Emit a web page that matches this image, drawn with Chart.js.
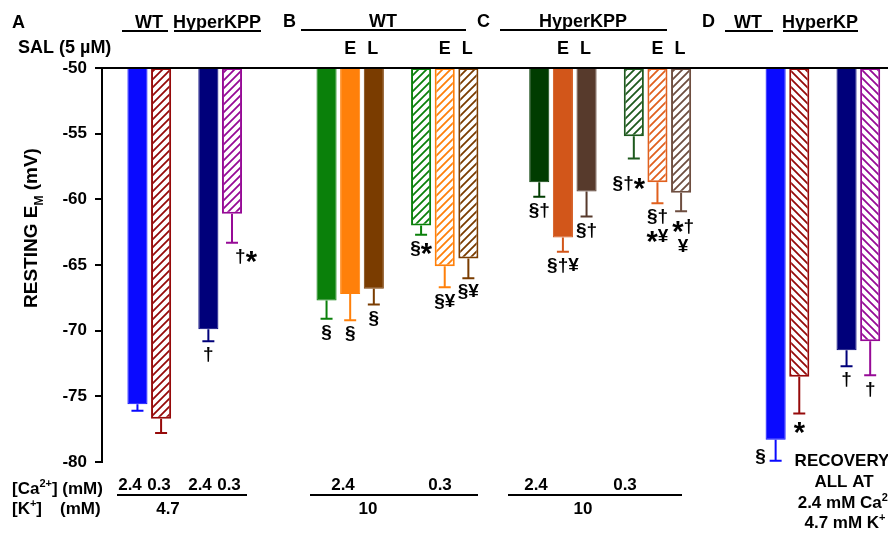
<!DOCTYPE html>
<html>
<head>
<meta charset="utf-8">
<script src="https://cdn.jsdelivr.net/npm/chart.js@4.4.0/dist/chart.umd.min.js"></script>
<style>
html, body { margin: 0; padding: 0; background: #fff; }
#wrap { width: 888px; height: 535px; position: relative; }
</style>
</head>
<body>
<div id="wrap"><canvas id="chart"></canvas></div>
<script>
// x axis is cut in 33 equal slots, the empty ones make the gaps between groups
var slotCount = 33;
var barSlots = [1, 2, 4, 5, 9, 10, 11, 13, 14, 15, 18, 19, 20, 22, 23, 24, 28, 29, 31, 32];

// resting membrane potential (mV) and SEM
var restingEm = [-75.6, -76.7, -69.9, -61.1,
                 -67.7, -67.2, -66.8, -62.0, -65.1, -64.5,
                 -58.7, -62.9, -59.4, -55.2, -58.7, -59.5,
                 -78.3, -73.5, -71.5, -70.8];
var semEm = [0.5, 1.1, 0.9, 2.2,
             1.4, 2.0, 1.2, 0.7, 1.6, 1.5,
             1.1, 1.1, 1.9, 1.7, 1.6, 1.4,
             1.6, 2.8, 1.2, 2.6];
var signif = ['', '', '\u2020', '\u2020*',
              '\u00a7', '\u00a7', '\u00a7', '\u00a7*', '\u00a7\u00a5', '\u00a7\u00a5',
              '\u00a7\u2020', '\u00a7\u2020\u00a5', '\u00a7\u2020', '\u00a7\u2020*', '\u00a7\u2020\n*\u00a5', '*\u2020\n\u00a5',
              '\u00a7', '*', '\u2020', '\u2020'];
var barColors = ['#0a0aff', '#960a0a', '#00007a', '#960a96',
                 '#0a800a', '#ff800a', '#7a3c00', '#0a800a', '#ff800a', '#7a3c00',
                 '#003c00', '#d2561a', '#573a2c', '#1e5a1e', '#e0601e', '#6e4e40',
                 '#0a0aff', '#960a0a', '#00007a', '#960a96'];
// 0 = solid, 1 = hatched "/", 2 = hatched "\"
var fillKind = [0, 1, 0, 1,
                0, 0, 0, 1, 1, 1,
                0, 0, 0, 1, 1, 1,
                0, 2, 0, 2];

var yMin = -80, yMax = -50, yStep = 5;

// little nudges for the significance marks [dx, dy] relative to the SEM cap
var markShift = {3: [14, 0], 13: [-5, 11], 15: [2, 2], 16: [-15, -18]};

function makeHatch(color, back) {
  var c = document.createElement('canvas');
  c.width = 8; c.height = 8;
  var g = c.getContext('2d');
  g.fillStyle = '#fff';
  g.fillRect(0, 0, 8, 8);
  g.strokeStyle = color;
  g.lineWidth = 1.8;
  g.beginPath();
  if (back) {
    g.moveTo(-2, -2); g.lineTo(10, 10);
    g.moveTo(-2, 6); g.lineTo(2, 10);
    g.moveTo(6, -2); g.lineTo(10, 2);
  } else {
    g.moveTo(-2, 10); g.lineTo(10, -2);
    g.moveTo(-2, 2); g.lineTo(2, -2);
    g.moveTo(6, 10); g.lineTo(10, 6);
  }
  g.stroke();
  return g.createPattern(c, 'repeat');
}

var slotLabels = [], barData = [], bg = [], border = [], borderW = [];
for (var i = 0; i < slotCount; i++) {
  slotLabels.push(String(i));
  barData.push(null); bg.push('#fff'); border.push('#fff'); borderW.push(0);
}
barSlots.forEach(function (s, i) {
  barData[s] = [yMax, restingEm[i]];
  bg[s] = fillKind[i] === 0 ? barColors[i] : makeHatch(barColors[i], fillKind[i] === 2);
  border[s] = barColors[i];
  borderW[s] = fillKind[i] === 0 ? 1 : 2;
});

var FONT = '"Liberation Sans", Arial, sans-serif';

function drawRich(ctx, parts, x, y, align, size) {
  var w = parts.map(function (p) {
    ctx.font = 'bold ' + (p[1] ? Math.round(size * 0.65) : size) + 'px ' + FONT;
    return ctx.measureText(p[0]).width;
  });
  var total = w.reduce(function (a, b) { return a + b; }, 0);
  var cx = align === 'center' ? x - total / 2 : (align === 'right' ? x - total : x);
  ctx.textAlign = 'left';
  ctx.textBaseline = 'alphabetic';
  parts.forEach(function (p, k) {
    ctx.font = 'bold ' + (p[1] ? Math.round(size * 0.65) : size) + 'px ' + FONT;
    var dy = p[1] === 1 ? -size * 0.4 : (p[1] === -1 ? size * 0.3 : 0);
    ctx.fillText(p[0], cx, y + dy);
    cx += w[k];
  });
}

// significance marks: the asterisk is drawn bigger and centred like in the figure
function drawMark(ctx, text, cx, top, size) {
  var chars = text.split('');
  var fontOf = function (ch) { return 'bold ' + (ch === '*' ? Math.round(size * 1.5) : size) + 'px ' + FONT; };
  var w = chars.map(function (ch) { ctx.font = fontOf(ch); return ctx.measureText(ch).width; });
  var total = w.reduce(function (a, b) { return a + b; }, 0);
  var x = cx - total / 2, base = top + size * 0.8;
  ctx.textAlign = 'left';
  ctx.textBaseline = 'alphabetic';
  chars.forEach(function (ch, k) {
    ctx.font = fontOf(ch);
    ctx.fillText(ch, x, ch === '*' ? base + size * 0.47 : base);
    x += w[k];
  });
}

function hline(ctx, x0, x1, y) {
  ctx.beginPath(); ctx.moveTo(x0, y); ctx.lineTo(x1, y); ctx.stroke();
}

var errorBars = {
  id: 'errorBars',
  afterDatasetsDraw: function (chart) {
    var xs = chart.scales.x, ys = chart.scales.y, ctx = chart.ctx;
    ctx.save();
    ctx.lineWidth = 2;
    barSlots.forEach(function (s, i) {
      var px = xs.getPixelForValue(s);
      var y0 = ys.getPixelForValue(restingEm[i]);
      var y1 = ys.getPixelForValue(restingEm[i] - semEm[i]);
      ctx.strokeStyle = barColors[i];
      ctx.beginPath();
      ctx.moveTo(px, y0); ctx.lineTo(px, y1);
      ctx.moveTo(px - 6, y1); ctx.lineTo(px + 6, y1);
      ctx.stroke();
      if (signif[i]) {
        var sh = markShift[i] || [0, 0];
        ctx.fillStyle = '#000';
        signif[i].split('\n').forEach(function (line, k) {
          drawMark(ctx, line, px + sh[0], y1 + 4 + sh[1] + k * 20, 19);
        });
      }
    });
    // baseline at -50 runs across the whole figure
    ctx.strokeStyle = '#000';
    ctx.lineWidth = 2;
    hline(ctx, chart.chartArea.left, chart.width, ys.getPixelForValue(yMax));
    ctx.restore();
  }
};

var figureText = {
  id: 'figureText',
  afterDraw: function (chart) {
    var ctx = chart.ctx, xs = chart.scales.x;
    ctx.save();
    ctx.fillStyle = '#000';
    ctx.strokeStyle = '#000';
    ctx.lineWidth = 2;

    // panel headers
    drawRich(ctx, [['A']], 12, 28, 'left', 18);
    drawRich(ctx, [['WT']], 149, 28, 'center', 18);
    hline(ctx, 122, 168, 31);
    drawRich(ctx, [['HyperKPP']], 217, 28, 'center', 18);
    hline(ctx, 174, 261, 31);
    drawRich(ctx, [['B']], 283, 27, 'left', 18);
    drawRich(ctx, [['WT']], 383, 27, 'center', 18);
    hline(ctx, 301, 466, 30);
    drawRich(ctx, [['C']], 477, 27, 'left', 18);
    drawRich(ctx, [['HyperKPP']], 583, 27, 'center', 18);
    hline(ctx, 500, 667, 30);
    drawRich(ctx, [['D']], 702, 27, 'left', 18);
    drawRich(ctx, [['WT']], 748, 28, 'center', 18);
    hline(ctx, 725, 773, 31);
    drawRich(ctx, [['HyperKP']], 820, 28, 'center', 18);
    hline(ctx, 783, 858, 31);

    drawRich(ctx, [['SAL (5 \u00b5M)']], 18, 53, 'left', 18);
    // E / L over the orange and brown columns
    [10, 14, 19, 23].forEach(function (s) {
      drawRich(ctx, [['E']], xs.getPixelForValue(s), 54, 'center', 18);
      drawRich(ctx, [['L']], xs.getPixelForValue(s + 1) - 1, 54, 'center', 18);
    });

    // y axis title with subscript
    ctx.save();
    ctx.translate(37, 228);
    ctx.rotate(-Math.PI / 2);
    drawRich(ctx, [['RESTING E'], ['M', -1], [' (mV)']], 0, 0, 'center', 19);
    ctx.restore();

    // bath conditions
    drawRich(ctx, [['[Ca'], ['2+', 1], ['] (mM)']], 12, 494, 'left', 17);
    drawRich(ctx, [['[K'], ['+', 1], [']']], 12, 514, 'left', 17);
    drawRich(ctx, [['(mM)']], 60, 514, 'left', 17);

    drawRich(ctx, [['2.4']], 130, 490, 'center', 17);
    drawRich(ctx, [['0.3']], 159, 490, 'center', 17);
    drawRich(ctx, [['2.4']], 200, 490, 'center', 17);
    drawRich(ctx, [['0.3']], 229, 490, 'center', 17);
    hline(ctx, 117, 247, 495);
    drawRich(ctx, [['4.7']], 168, 514, 'center', 17);

    drawRich(ctx, [['2.4']], 343, 490, 'center', 17);
    drawRich(ctx, [['0.3']], 440, 490, 'center', 17);
    hline(ctx, 310, 478, 495);
    drawRich(ctx, [['10']], 368, 514, 'center', 17);

    drawRich(ctx, [['2.4']], 536, 490, 'center', 17);
    drawRich(ctx, [['0.3']], 625, 490, 'center', 17);
    hline(ctx, 508, 682, 495);
    drawRich(ctx, [['10']], 583, 514, 'center', 17);

    drawRich(ctx, [['RECOVERY']], 842, 466, 'center', 17);
    drawRich(ctx, [['ALL AT']], 844, 487, 'center', 17);
    drawRich(ctx, [['2.4 mM Ca'], ['2+', 1]], 846, 508, 'center', 17);
    drawRich(ctx, [['4.7 mM K'], ['+', 1]], 845, 528, 'center', 17);

    ctx.restore();
  }
};

new Chart(document.getElementById('chart'), {
  type: 'bar',
  data: {
    labels: slotLabels,
    datasets: [{
      data: barData,
      backgroundColor: bg,
      borderColor: border,
      borderWidth: borderW,
      borderSkipped: false,
      barPercentage: 0.85,
      categoryPercentage: 1.0
    }]
  },
  options: {
    responsive: true,
    maintainAspectRatio: false,
    animation: false,
    layout: { padding: { left: 0, right: 6, top: 68, bottom: 73 } },
    plugins: { legend: { display: false }, tooltip: { enabled: false } },
    scales: {
      x: {
        position: 'top',
        ticks: { display: false },
        grid: { display: false },
        border: { display: false },
        afterFit: function (s) { s.height = 0; }
      },
      y: {
        min: yMin,
        max: yMax,
        ticks: { stepSize: yStep, color: '#000', padding: 8, font: { family: FONT, size: 17, weight: 'bold' } },
        grid: { drawOnChartArea: false, drawTicks: true, tickLength: 7, color: '#000', lineWidth: 2 },
        border: { display: true, color: '#000', width: 2 },
        afterFit: function (s) { s.width = 102; }
      }
    }
  },
  plugins: [errorBars, figureText]
});
</script>
</body>
</html>
